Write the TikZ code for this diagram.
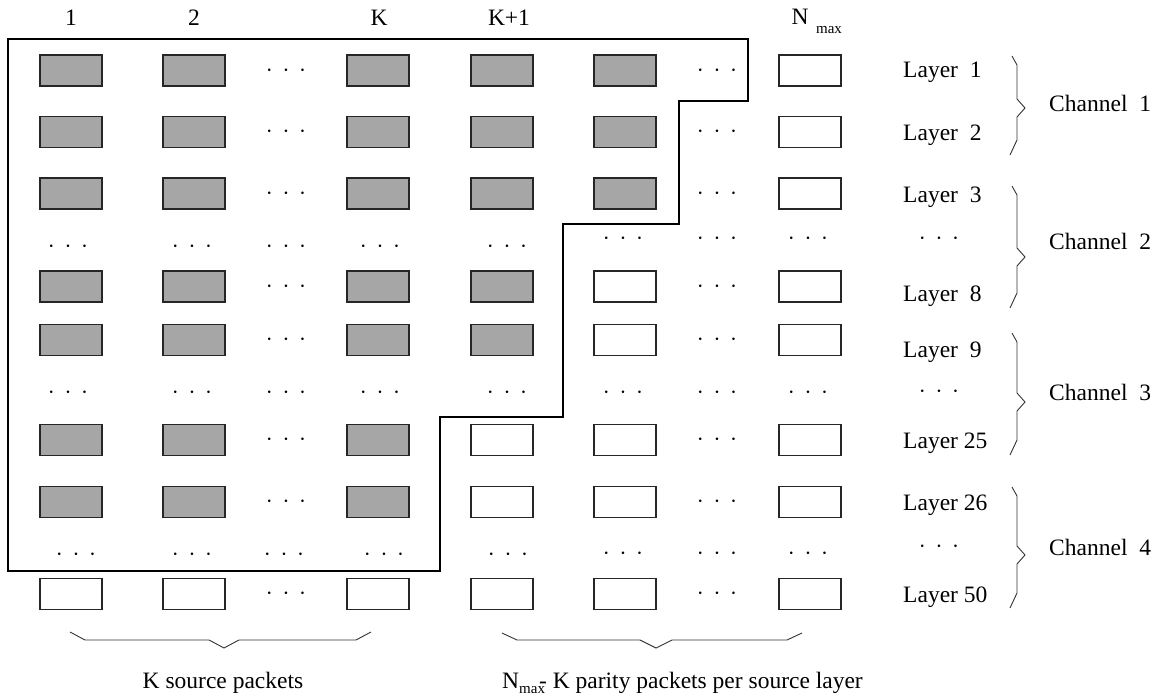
\documentclass[tikz,border=0pt]{standalone}
\usepackage{fontspec}
\setmainfont{Liberation Serif}
% three centred dots used as an ellipsis between packets
\newcommand{\dotrow}{\ensuremath{\cdotp\mkern4mu\cdotp\mkern4mu\cdotp}}
\begin{document}
\begin{tikzpicture}[x=1pt,y=-1pt,
  every node/.style={font=\fontsize{23.5}{28}\selectfont},
  pkt/.style={draw=black!85, line width=1.1pt, minimum width=62pt, minimum height=31pt, inner sep=0pt},
  src/.style={pkt, fill=gray!70},
  par/.style={pkt, fill=white},
  dotsty/.style={anchor=base, yshift=-5.9pt, inner sep=0pt},
  lbl/.style={anchor=base west, inner sep=0pt},
  clbl/.style={anchor=base, inner sep=0pt},
  subsc/.style={font=\fontsize{15}{17}\selectfont},
  bracesty/.style={line width=0.9pt, draw=black!80},
  framesty/.style={line width=1.2pt, draw=black}]
\useasboundingbox (0,0) rectangle (1168,698);

% column headers
\node[clbl] (h1) at (71,26) {1};
\node[clbl] (h2) at (194,26) {2};
\node[clbl] (hK) at (379,26) {K};
\node[clbl] (hK1) at (509,26) {K+1};
\node[clbl] (hN) at (800,25) {N};
\node[clbl,subsc] (hNmax) at (829,34) {max};

% rows with all source columns filled
\foreach \r/\y in {1/70.5,2/132,3/193.5}{
  \node[src] (p-\r-1) at (71,\y) {};
  \node[src] (p-\r-2) at (194,\y) {};
  \node[dotsty] (d-\r-3) at (286,\y) {\dotrow};
  \node[src] (p-\r-4) at (378,\y) {};
  \node[src] (p-\r-5) at (502,\y) {};
  \node[src] (p-\r-6) at (625,\y) {};
  \node[dotsty] (d-\r-7) at (717,\y) {\dotrow};
  \node[par] (p-\r-8) at (810,\y) {};
}
\foreach \r/\y in {5/286.5,6/340}{
  \node[src] (p-\r-1) at (71,\y) {};
  \node[src] (p-\r-2) at (194,\y) {};
  \node[dotsty] (d-\r-3) at (286,\y) {\dotrow};
  \node[src] (p-\r-4) at (378,\y) {};
  \node[src] (p-\r-5) at (502,\y) {};
  \node[par] (p-\r-6) at (625,\y) {};
  \node[dotsty] (d-\r-7) at (717,\y) {\dotrow};
  \node[par] (p-\r-8) at (810,\y) {};
}
\foreach \r/\y in {8/440,9/502}{
  \node[src] (p-\r-1) at (71,\y) {};
  \node[src] (p-\r-2) at (194,\y) {};
  \node[dotsty] (d-\r-3) at (286,\y) {\dotrow};
  \node[src] (p-\r-4) at (378,\y) {};
  \node[par] (p-\r-5) at (502,\y) {};
  \node[par] (p-\r-6) at (625,\y) {};
  \node[dotsty] (d-\r-7) at (717,\y) {\dotrow};
  \node[par] (p-\r-8) at (810,\y) {};
}
% last layer: no packet received
\node[par] (p-11-1) at (71,594) {};
\node[par] (p-11-2) at (194,594) {};
\node[dotsty] (d-11-3) at (286,594) {\dotrow};
\node[par] (p-11-4) at (378,594) {};
\node[par] (p-11-5) at (502,594) {};
\node[par] (p-11-6) at (625,594) {};
\node[dotsty] (d-11-7) at (717,594) {\dotrow};
\node[par] (p-11-8) at (810,594) {};

% elided rows
\foreach \c/\x/\y in {1/68/247,2/192/247,3/286/247,4/380/247,5/507/247,6/623/239,7/717/239,8/808/239}
  \node[dotsty] (d-4-\c) at (\x,\y) {\dotrow};
\foreach \c/\x in {1/68,2/192,3/286,4/380,5/507,6/623,7/717,8/808}
  \node[dotsty] (d-7-\c) at (\x,393) {\dotrow};
\foreach \c/\x/\y in {1/76/555,2/192/555,3/284/555,4/384/555,5/508/555,6/623/554,7/717/554,8/808/554}
  \node[dotsty] (d-10-\c) at (\x,\y) {\dotrow};

% staircase boundary of the received packets
\draw[framesty] (8,39) -- (748,39) -- (748,101) -- (679,101) -- (679,224)
  -- (563,224) -- (563,417) -- (440,417) -- (440,571) -- (8,571) -- cycle;

% layer labels
\node[lbl] (L1) at (903,78) {Layer\ \ 1};
\node[lbl] (L2) at (903,140.5) {Layer\ \ 2};
\node[lbl] (L3) at (903,202) {Layer\ \ 3};
\node[dotsty] (Ld1) at (939,239) {\dotrow};
\node[lbl] (L8) at (903,301) {Layer\ \ 8};
\node[lbl] (L9) at (903,357) {Layer\ \ 9};
\node[dotsty] (Ld2) at (939,392) {\dotrow};
\node[lbl] (L25) at (903,448) {Layer 25};
\node[lbl] (L26) at (903,510) {Layer 26};
\node[dotsty] (Ld3) at (939,547) {\dotrow};
\node[lbl] (L50) at (903,602) {Layer 50};

% channel braces
\foreach \n/\t/\m/\b in {1/56/108/155,2/186/257/308,3/333/402/455,4/487/555/608}{
  \coordinate (cb\n-top) at (1012,\t);
  \coordinate (cb\n-tip) at (1025,\m);
  \coordinate (cb\n-bot) at (1010,\b);
  \draw[bracesty] (cb\n-top) -- (1017,\t+9) -- (1017,\m-9) -- (cb\n-tip)
    -- (1017,\m+9) -- (1017,\b-15) -- (cb\n-bot);
}
\node[lbl] (C1) at (1049,111.5) {Channel\ \ 1};
\node[lbl] (C2) at (1049,249) {Channel\ \ 2};
\node[lbl] (C3) at (1049,400.5) {Channel\ \ 3};
\node[lbl] (C4) at (1049,555.5) {Channel\ \ 4};

% bottom braces
\coordinate (sb-l) at (70,632);
\coordinate (sb-m) at (224,648);
\coordinate (sb-r) at (371,632);
\draw[bracesty] (sb-l) -- (85,640) -- (209,640) -- (sb-m) -- (239,640) -- (356,640) -- (sb-r);
\coordinate (pb-l) at (502,633);
\coordinate (pb-m) at (656,648);
\coordinate (pb-r) at (802,633);
\draw[bracesty] (pb-l) -- (517,640) -- (640,640) -- (pb-m) -- (672,640) -- (787,640) -- (pb-r);

\node[clbl] (srclbl) at (223,688) {K source packets};
\node[lbl] (parlbl) at (502,688) {N\makebox[20pt][l]{\raisebox{-5pt}{\fontsize{15}{17}\selectfont max}}-\ K parity packets per source layer};
\end{tikzpicture}
\end{document}
